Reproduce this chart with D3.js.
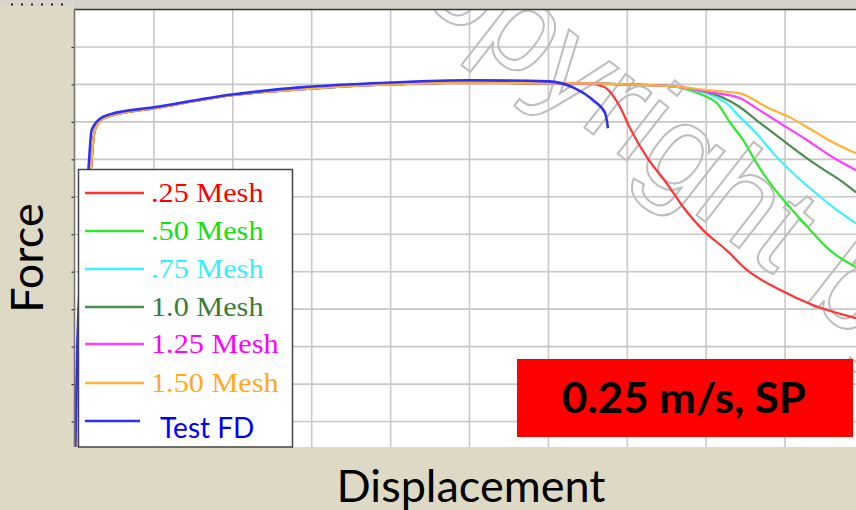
<!DOCTYPE html>
<html>
<head>
<meta charset="utf-8">
<script src="https://cdn.jsdelivr.net/npm/d3@7"></script>
<style>
  html, body { margin: 0; padding: 0; background: #ddd9c4; }
  svg { display: block; }
</style>
</head>
<body>
<svg id="chart" width="856" height="510"></svg>
<script>
// ---------------- data (Displacement, Force) in grid units ----------------
const seriesNames = [".25 Mesh", ".50 Mesh", ".75 Mesh", "1.0 Mesh", "1.25 Mesh", "1.50 Mesh", "Test FD"];
const seriesColors = ["#ff3535", "#2ee82e", "#3ff2ff", "#4f8c4f", "#ff3cff", "#ffb23a", "#2f2ff5"];
const labelColors  = ["#ff0000", "#11e011", "#33f0ff", "#3a7a3a", "#ff00ff", "#ffaa22", "#0000ff"];

// common rise shared by every mesh simulation
const meshRise = [[0.02,0],[0.06,3.0],[0.20,7.71],[0.25,8.77],[0.34,9.07],[0.47,9.17],[1.0,9.36],[1.99,9.71],[2.99,9.89],[4.0,10.0],[5.0,10.05],[6.0,10.03],[6.53,10.03]];
const meshPlateau = [[7.0,10.0],[7.58,9.95]];

const mesh025Tail = [[6.65,9.97],[6.74,9.89],[6.91,9.39],[7.03,8.85],[7.25,8.05],[7.50,7.36],[7.71,6.72],[7.96,6.11],[8.26,5.57],[8.52,5.04],[8.94,4.51],[9.35,4.11],[9.90,3.76]];
const mesh050Tail = [[7.79,9.84],[7.96,9.71],[8.14,9.49],[8.30,8.99],[8.47,8.51],[8.64,7.89],[8.85,7.25],[9.06,6.72],[9.32,6.11],[9.57,5.57],[9.90,5.12]];
const mesh075Tail = [[7.79,9.87],[8.01,9.76],[8.26,9.49],[8.43,9.12],[8.64,8.69],[8.85,8.16],[9.10,7.63],[9.35,7.17],[9.61,6.72],[9.90,6.29]];
const mesh100Tail = [[7.92,9.84],[8.21,9.65],[8.43,9.39],[8.64,9.04],[8.94,8.56],[9.19,8.16],[9.44,7.79],[9.70,7.44],[9.90,7.12]];
const mesh125Tail = [[8.05,9.79],[8.43,9.63],[8.64,9.36],[8.94,8.96],[9.28,8.51],[9.61,8.05],[9.90,7.71]];
const mesh150Tail = [[8.05,9.84],[8.43,9.76],[8.77,9.39],[9.06,9.12],[9.35,8.77],[9.61,8.45],[9.90,8.16]];
const testFD = [[0,0],[0.03,3.1],[0.17,7.71],[0.21,8.77],[0.32,9.09],[0.44,9.2],[1.0,9.39],[1.99,9.73],[2.85,9.92],[4.0,10.05],[5.0,10.11],[6.0,10.08],[6.31,9.92],[6.57,9.57],[6.72,9.23],[6.755,8.83]];

const xTicks = [1,2,3,4,5,6,7,8,9];
const yTicks = [1,2,3,4,5,6,7,8,9,10,11,12];
const xTitle = "Displacement";
const yTitle = "Force";
const boxLabel = "0.25 m/s, SP";
const watermark = "Copyright by";

// ---------------- layout ----------------
const svg = d3.select("#chart");
const W = 856, H = 510;
const plot = {left: 74.5, top: 9.5, right: 856, bottom: 447};

const x = d3.scaleLinear().domain([0, 10]).range([75, 864]);
const y = d3.scaleLinear().domain([0, 12]).range([459, 9.5]);

// background
svg.append("rect").attr("x",0).attr("y",0).attr("width",W).attr("height",H).attr("fill","#ddd9c4");
svg.append("rect").attr("x",0).attr("y",0).attr("width",W).attr("height",6).attr("fill","#d8d5ce");
svg.append("line").attr("x1",11).attr("x2",68).attr("y1",4.5).attr("y2",4.5)
   .attr("stroke","#222").attr("stroke-width",2).attr("stroke-dasharray","2,8");
svg.append("rect").attr("x",74).attr("y",0).attr("width",W-74).attr("height",9).attr("fill","#d6d2ca");

// plot area
svg.append("rect").attr("x",plot.left).attr("y",plot.top)
   .attr("width",plot.right-plot.left).attr("height",plot.bottom-plot.top).attr("fill","#ffffff");

const defs = svg.append("defs");
defs.append("clipPath").attr("id","clip").append("rect")
   .attr("x",plot.left).attr("y",plot.top).attr("width",plot.right-plot.left).attr("height",plot.bottom-plot.top);

const g = svg.append("g").attr("clip-path","url(#clip)");

// grid
g.append("g").selectAll("line").data(xTicks).join("line")
  .attr("x1",d=>x(d)).attr("x2",d=>x(d)).attr("y1",plot.top).attr("y2",plot.bottom)
  .attr("stroke","#c8c8c8").attr("stroke-width",1.6);
g.append("g").selectAll("line").data(yTicks).join("line")
  .attr("x1",plot.left).attr("x2",plot.right).attr("y1",d=>y(d)).attr("y2",d=>y(d))
  .attr("stroke","#c8c8c8").attr("stroke-width",1.6);

// watermark (outlined)
g.append("text").text(watermark)
  .attr("transform","translate(342,-62) rotate(38)")
  .attr("font-family","Liberation Sans").attr("font-size",128)
  .attr("fill","none").attr("stroke","#bdbdbd").attr("stroke-width",2);

// curves
const line = d3.line().x(d=>x(d[0])).y(d=>y(d[1])).curve(d3.curveMonotoneX);
const meshSeries = [
  meshRise.concat(mesh025Tail),
  meshRise.concat(meshPlateau, mesh050Tail),
  meshRise.concat(meshPlateau, mesh075Tail),
  meshRise.concat(meshPlateau, mesh100Tail),
  meshRise.concat(meshPlateau, mesh125Tail),
  meshRise.concat(meshPlateau, mesh150Tail)
];
meshSeries.forEach((s, i) => {
  g.append("path").attr("d", line(s)).attr("fill","none")
   .attr("stroke", seriesColors[i]).attr("stroke-width",2.2);
});
g.append("path").attr("d", line(testFD)).attr("fill","none")
 .attr("stroke", seriesColors[6]).attr("stroke-width",2.6);

// top border
svg.append("line").attr("x1",74).attr("x2",W).attr("y1",9.5).attr("y2",9.5)
   .attr("stroke","#3a3a3a").attr("stroke-width",1.6);

// left axis
const yAxis = d3.axisLeft(y).tickValues(yTicks.filter(v=>y(v)<plot.bottom && y(v)>plot.top+2))
  .tickSize(3).tickFormat("");
const ya = svg.append("g").attr("transform","translate(74.5,0)").call(yAxis);
ya.select(".domain").remove();
ya.selectAll("line").attr("stroke","#333").attr("stroke-width",1.2);
svg.append("line").attr("x1",74.5).attr("x2",74.5).attr("y1",9).attr("y2",plot.bottom)
   .attr("stroke","#777").attr("stroke-width",1.6);

// legend
const lg = svg.append("g");
lg.append("rect").attr("x",78.5).attr("y",169.5).attr("width",214).attr("height",277.5)
  .attr("fill","#fff").attr("stroke","#444").attr("stroke-width",1.5);
const legY = [193,231,269,307,344,383,421];
seriesNames.forEach((name,i) => {
  const isTest = i === 6;
  lg.append("line").attr("x1",85).attr("x2",isTest?140:144).attr("y1",legY[i]).attr("y2",legY[i])
    .attr("stroke",seriesColors[i]).attr("stroke-width",2.6);
  const t = lg.append("text").text(name)
    .attr("fill",labelColors[i]);
  if (isTest) {
    t.attr("x",160).attr("y",legY[i]+17).attr("font-family","Lato").attr("font-size",28);
  } else {
    t.attr("transform",`translate(151,${legY[i]+9}) scale(1.08,1)`)
     .attr("font-family","Liberation Serif").attr("font-size",28);
  }
});

// red box
svg.append("rect").attr("x",517).attr("y",359).attr("width",336).attr("height",78).attr("fill","#ff0000");
svg.append("text").text(boxLabel).attr("x",562).attr("y",413)
  .attr("textLength",244).attr("lengthAdjust","spacingAndGlyphs")
  .attr("font-family","Lato").attr("font-weight","bold").attr("font-size",42).attr("fill","#000");

// axis titles
svg.append("text").text(xTitle).attr("x",471).attr("y",502).attr("text-anchor","middle")
  .attr("font-family","Lato").attr("font-size",45).attr("fill","#000");
svg.append("text").text(yTitle).attr("transform","translate(43,258) rotate(-90)").attr("text-anchor","middle")
  .attr("font-family","Lato").attr("font-size",45).attr("fill","#000");
</script>
</body>
</html>
